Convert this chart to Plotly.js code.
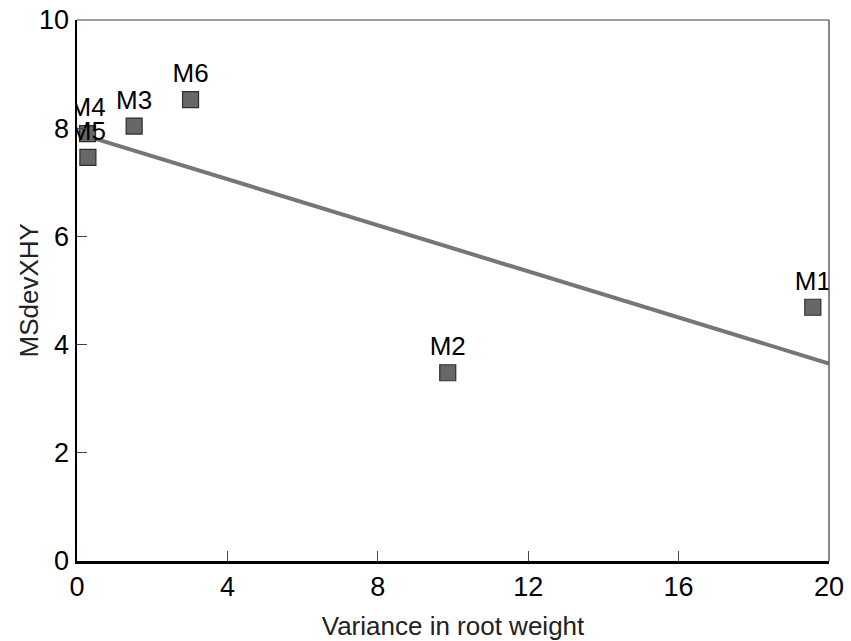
<!DOCTYPE html>
<html>
<head>
<meta charset="utf-8">
<script src="https://cdn.plot.ly/plotly-3.0.1.min.js"></script>
<style>html,body{margin:0;padding:0;background:#fff;}#chart{width:851px;height:641px;}</style>
</head>
<body>
<div id="chart"></div>
<script>
var labels = ["M1", "M2", "M3", "M4", "M5", "M6"];
var varianceRootWeight = [19.57, 9.86, 1.52, 0.28, 0.29, 3.02];
var msDevXHY = [4.69, 3.48, 8.04, 7.90, 7.46, 8.53];
var trendX = [0.28, 20];
var trendY = [7.85, 3.65];
var xTicks = [0, 4, 8, 12, 16, 20];
var yTicks = [0, 2, 4, 6, 8, 10];
var yTitle = "MSdevXHY";

var FONT = "Liberation Sans, Arial, sans-serif";

var trend = {
  x: trendX, y: trendY, mode: "lines", type: "scatter",
  line: {color: "#767676", width: 4},
  hoverinfo: "skip", showlegend: false
};
var pts = {
  x: varianceRootWeight, y: msDevXHY, text: labels,
  mode: "markers+text", type: "scatter",
  textposition: "top center",
  textfont: {family: FONT, size: 26, color: "#000"},
  marker: {symbol: "square", size: 16, color: "#676767", line: {color: "#2e2e2e", width: 1.2}},
  showlegend: false
};

var layout = {
  width: 851, height: 641,
  margin: {l: 77, r: 22, t: 20, b: 80},
  paper_bgcolor: "#fff", plot_bgcolor: "#fff",
  font: {family: FONT, size: 26, color: "#000"},
  xaxis: {
    range: [0, 20], tickvals: xTicks, ticktext: xTicks.map(String),
    showgrid: false, zeroline: false,
    showline: true, linecolor: "#000", linewidth: 2.5,
    ticks: "inside", ticklen: 10, tickwidth: 1, tickcolor: "#444",
    tickfont: {family: FONT, size: 27, color: "#000"},
    title: {text: "Variance in root weight", font: {family: FONT, size: 26, color: "#222"}, standoff: 18},
    automargin: false, fixedrange: true
  },
  yaxis: {
    range: [0, 10], tickvals: yTicks, ticktext: yTicks.map(String),
    showgrid: false, zeroline: false,
    showline: true, linecolor: "#000", linewidth: 2.5,
    ticks: "inside", ticklen: 10, tickwidth: 1, tickcolor: "#444",
    tickfont: {family: FONT, size: 27, color: "#000"},
    automargin: false, fixedrange: true
  },
  annotations: [
    {text: yTitle, xref: "paper", yref: "paper", x: 0, y: 0.5, xanchor: "center", yanchor: "middle",
     xshift: -49, textangle: -90, showarrow: false, font: {family: FONT, size: 26, color: "#222"}}
  ],
  shapes: [
    {type: "line", xref: "paper", yref: "paper", x0: 0, x1: 1, y0: 1, y1: 1, line: {color: "#808080", width: 1.5}},
    {type: "line", xref: "paper", yref: "paper", x0: 1, x1: 1, y0: 0, y1: 1, line: {color: "#606060", width: 1.5}}
  ]
};

Plotly.newPlot("chart", [trend, pts], layout, {displayModeBar: false, staticPlot: true});
</script>
</body>
</html>
